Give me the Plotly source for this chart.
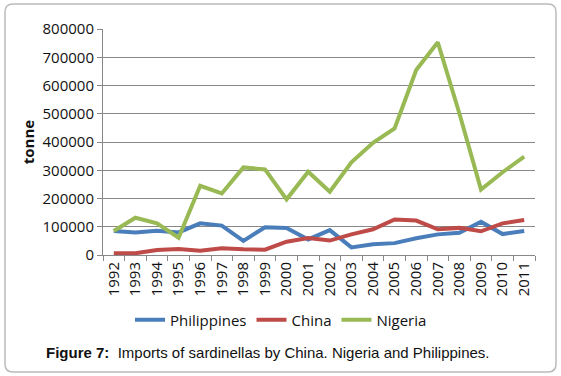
import plotly.graph_objects as go

years = [str(y) for y in range(1992, 2012)]
philippines = [85000, 80000, 86000, 80000, 112000, 104000, 50000, 98000, 96000, 55000,
               88000, 27000, 38000, 42000, 59000, 73000, 79000, 118000, 74000, 85000]
china = [6000, 6000, 18000, 21000, 15000, 24000, 20000, 19000, 47000, 60000,
         51000, 73000, 91000, 126000, 122000, 91000, 96000, 84000, 112000, 124000]
nigeria = [85000, 132000, 112000, 61000, 245000, 218000, 310000, 303000, 197000, 295000,
           224000, 328000, 397000, 448000, 655000, 753000, 501000, 232000, 293000, 348000]
y_ticks = [0, 100000, 200000, 300000, 400000, 500000, 600000, 700000, 800000]

W, H = 561, 376
L, R, T, B = 103, 535, 29, 255
FONT = "Open Sans, Liberation Sans, Arial"

fig = go.Figure()
for name, vals, col in [("Philippines", philippines, "#4A7EBB"),
                        ("China", china, "#BE4B48"),
                        ("Nigeria", nigeria, "#98B954")]:
    fig.add_trace(go.Scatter(x=years, y=vals, name=name, mode="lines",
                             line=dict(color=col, width=4)))

def px(x):
    return (x - L) / (R - L)

def py(y):
    return (B - y) / (B - T)

# rounded frame
x0, x1, y0, y1, r = 5, 556, 4, 372, 8
path = (f"M {px(x0+r)},{py(y0)} L {px(x1-r)},{py(y0)} Q {px(x1)},{py(y0)} {px(x1)},{py(y0+r)} "
        f"L {px(x1)},{py(y1-r)} Q {px(x1)},{py(y1)} {px(x1-r)},{py(y1)} "
        f"L {px(x0+r)},{py(y1)} Q {px(x0)},{py(y1)} {px(x0)},{py(y1-r)} "
        f"L {px(x0)},{py(y0+r)} Q {px(x0)},{py(y0)} {px(x0+r)},{py(y0)} Z")
fig.add_shape(type="path", path=path, xref="paper", yref="paper",
              line=dict(color="#BBBBBB", width=1.5), layer="below")

fig.add_annotation(text="<b>Figure 7:</b>  Imports of sardinellas by China. Nigeria and Philippines.",
                   xref="paper", yref="paper", x=px(44), y=py(352), xanchor="left", yanchor="middle",
                   showarrow=False, font=dict(family="Liberation Sans, Arial", size=15, color="#111"))

fig.update_layout(
    width=W, height=H,
    margin=dict(l=L, r=W - R, t=T, b=H - B, autoexpand=False),
    paper_bgcolor="white", plot_bgcolor="white",
    font=dict(family=FONT, size=15, color="#111"),
    showlegend=True,
    legend=dict(orientation="h", x=px(281), y=py(320), xanchor="center", yanchor="middle",
                font=dict(size=15), itemwidth=30, tracegroupgap=0),
    xaxis=dict(type="category", tickangle=-90, showgrid=False, showline=True,
               linecolor="#888", linewidth=1, ticks="outside", tickson="boundaries",
               ticklen=5, tickcolor="#888", tickfont=dict(size=15), range=[-0.5, 19.5]),
    yaxis=dict(range=[0, 800000], tickvals=y_ticks, ticktext=[str(v) for v in y_ticks],
               showgrid=True, gridcolor="#888", gridwidth=1, showline=True,
               linecolor="#888", linewidth=1, ticks="outside", ticklen=5, tickcolor="#888",
               tickfont=dict(size=15), zeroline=False,
               title=dict(text="<b>tonne</b>", font=dict(size=15), standoff=4)),
)

fig.write_html("out.html", config={"displayModeBar": False},
               post_script="document.body.style.margin='0';")
